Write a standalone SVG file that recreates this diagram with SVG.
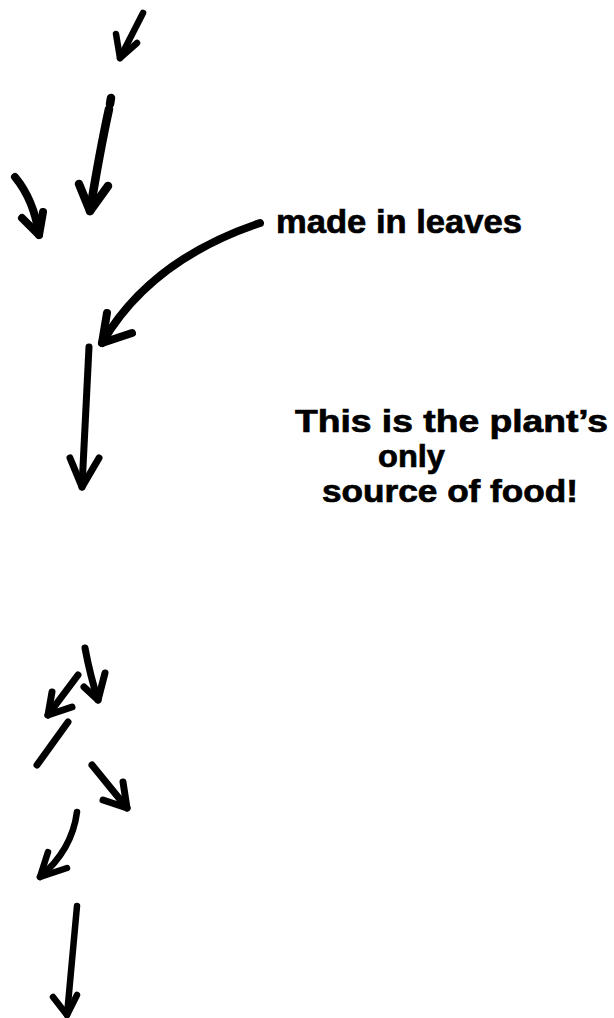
<svg xmlns="http://www.w3.org/2000/svg" width="614" height="1018" viewBox="0 0 614 1018">
<style>
.c{fill:none;stroke:#000;stroke-linecap:round;stroke-linejoin:round}
.t{font-family:"Liberation Sans",Arial,sans-serif;font-weight:bold;fill:#000;stroke:#000;stroke-width:0.7}
</style>
<rect width="614" height="1018" fill="#fff"/>
<g id="connectors">
<g class="c" stroke-width="6.5"><path d="M143,13 L120,58"/><path d="M116,34 L120,58 L137,43"/></g>
<g class="c" stroke-width="8.5"><path d="M111,98 L110,104"/><path d="M109,109 Q100,150 90,211"/><path d="M79,184 L90,211 L108,186"/></g>
<g class="c" stroke-width="8"><path d="M15,177 Q34,200 39,235"/><path d="M22,218 L39,235 L43,212"/></g>
<g class="c" stroke-width="8"><path d="M260,223 Q150,260 102,343"/><path d="M107,313 L102,343 L132,333"/></g>
<g class="c" stroke-width="7"><path d="M89,347 L82,487"/><path d="M70,458 L82,487 L99,458"/></g>
<g class="c" stroke-width="7"><path d="M85,648 Q90,675 98,700"/><path d="M84,687 L98,700 L105,673"/></g>
<g class="c" stroke-width="7"><path d="M78,675 L48,715"/><path d="M52,692 L48,715 L72,707"/></g>
<g class="c" stroke-width="7"><path d="M68,722 L37,765"/></g>
<g class="c" stroke-width="7"><path d="M92,765 L127,808"/><path d="M123,782 L127,808 L103,800"/></g>
<g class="c" stroke-width="6.5"><path d="M77,812 Q72,850 40,877"/><path d="M48,852 L40,877 L67,868"/></g>
<g class="c" stroke-width="6.5"><path d="M77,906 L67,1015"/><path d="M53,997 L67,1015 L77,995"/></g>
</g>
<g id="label-made">
<text class="t" x="276" y="233" font-size="34" textLength="246" lengthAdjust="spacingAndGlyphs">made in leaves</text>
</g>
<g id="label-food">
<text class="t" x="295" y="432" font-size="31" textLength="313" lengthAdjust="spacingAndGlyphs">This is the plant’s</text>
<text class="t" x="378" y="467" font-size="31" textLength="67" lengthAdjust="spacingAndGlyphs">only</text>
<text class="t" x="322" y="502" font-size="31" textLength="256" lengthAdjust="spacingAndGlyphs">source of food!</text>
</g>
</svg>
